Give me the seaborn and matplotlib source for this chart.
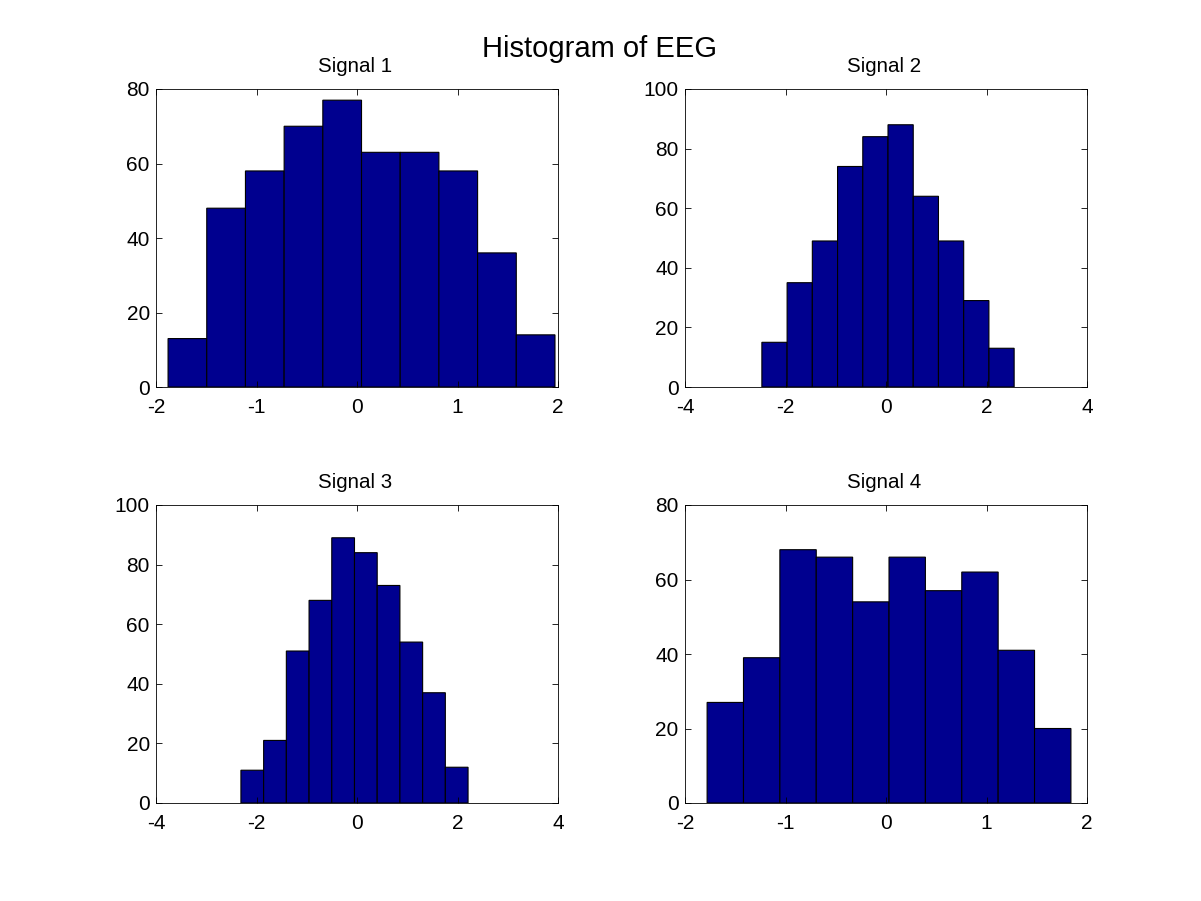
import numpy as np
import matplotlib
matplotlib.use('Agg')
import matplotlib.pyplot as plt
import seaborn as sns

# Bar heights
signal_1_counts = [13, 48, 58, 70, 77, 63, 63, 58, 36, 14]
signal_2_counts = [15, 35, 49, 74, 84, 88, 64, 49, 29, 13]
signal_3_counts = [11, 21, 51, 68, 89, 84, 73, 54, 37, 12]
signal_4_counts = [27, 39, 68, 66, 54, 66, 57, 62, 41, 20]

# Outer edges of the ten bins
signal_1_range = (-1.88, 1.97)
signal_2_range = (-2.47, 2.55)
signal_3_range = (-2.31, 2.21)
signal_4_range = (-1.78, 1.84)

titles = ['Signal 1', 'Signal 2', 'Signal 3', 'Signal 4']
x_limits = [(-2, 2), (-4, 4), (-4, 4), (-2, 2)]
y_limits = [(0, 80), (0, 100), (0, 100), (0, 80)]

sns.set_style('ticks')
plt.rcParams['font.family'] = ['Liberation Sans', 'DejaVu Sans']
plt.rcParams['text.color'] = 'black'
plt.rcParams['axes.labelcolor'] = 'black'
plt.rcParams['xtick.labelcolor'] = 'black'
plt.rcParams['ytick.labelcolor'] = 'black'

W, H = 1201, 901
fig = plt.figure(figsize=(W / 100, H / 100), dpi=100)

# Axes boxes in pixels: left, top, right, bottom
boxes = [(156, 89, 558, 387), (685, 89, 1087, 387),
         (156, 505, 558, 803), (685, 505, 1087, 803)]
counts = [signal_1_counts, signal_2_counts, signal_3_counts, signal_4_counts]
ranges = [signal_1_range, signal_2_range, signal_3_range, signal_4_range]

for i in range(4):
    l, t, r, b = boxes[i]
    ax = fig.add_axes([l / W, 1 - b / H, (r - l) / W, (b - t) / H])
    edges = np.linspace(ranges[i][0], ranges[i][1], len(counts[i]) + 1)
    centers = (edges[:-1] + edges[1:]) / 2
    # bins has to be a list, seaborn compares it to 'auto' when weights are used
    sns.histplot(x=centers, weights=counts[i], bins=list(edges), ax=ax,
                 color='#00008f', edgecolor='black', linewidth=0.8, alpha=1)
    # no snapping, otherwise some inner bar edges get lost
    for bar in ax.patches:
        bar.set_snap(False)
    ax.set_xlim(x_limits[i])
    ax.set_ylim(y_limits[i])
    ax.set_xlabel('')
    ax.set_ylabel('')
    ax.set_title(titles[i], fontsize=14.8, pad=12, color='black', x=0.495)
    ax.tick_params(direction='in', length=4, width=0.6, labelsize=15,
                   top=True, right=True, color='black')
    ax.tick_params(axis='x', pad=8)
    ax.tick_params(axis='y', pad=4.5)
    for side in ax.spines.values():
        side.set_visible(True)
        side.set_linewidth(0.6)
        side.set_color('black')
    ax.set_axisbelow(False)
    ax.xaxis.set_major_formatter(lambda v, pos: f'{v:g}')

fig.text(599 / W, 1 - 49 / H, 'Histogram of EEG', fontsize=21,
         ha='center', va='center', color='black')

fig.savefig('out.png', dpi=100, facecolor='white')
